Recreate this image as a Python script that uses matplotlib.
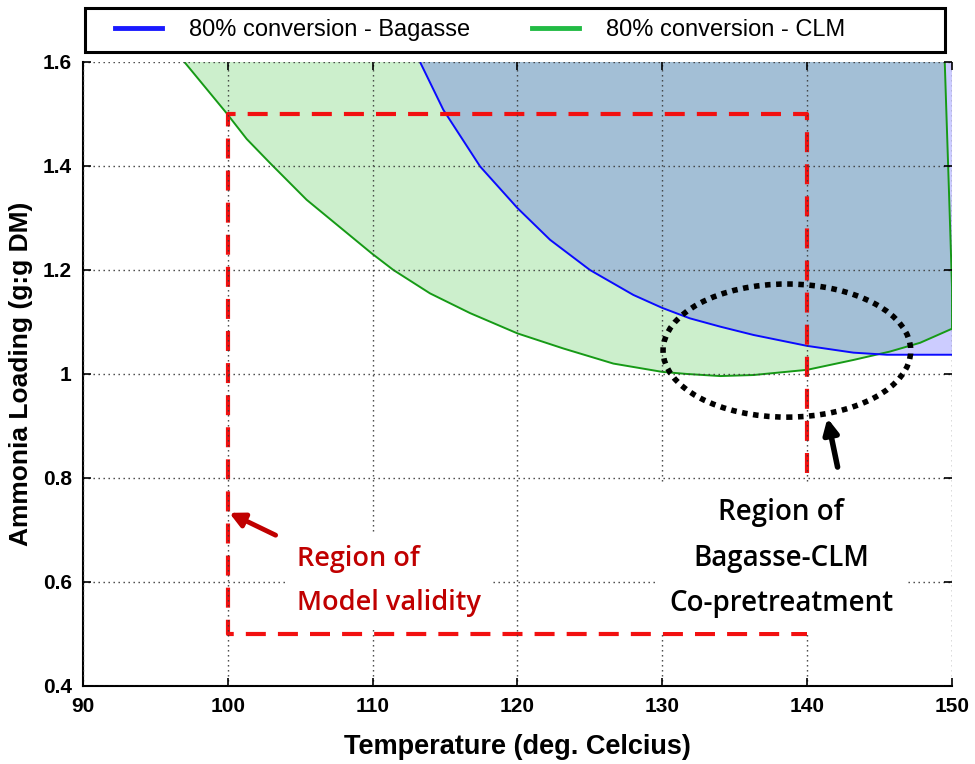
import numpy as np
import matplotlib
matplotlib.use('Agg')
import matplotlib.pyplot as plt
from matplotlib.patches import Ellipse, Rectangle
from matplotlib.lines import Line2D

# 80% conversion boundary - CLM (lower curve, then steep right edge)
clm_T = [97.0, 99.9, 101.3, 102.9, 105.44, 109.93, 111.43, 113.96, 116.73, 120.0, 123.17,
         126.62, 130.0, 131.7, 134.0, 136.3, 140.0, 143.2, 145.7, 147.8, 150.0]
clm_L = [1.600, 1.502, 1.452, 1.406, 1.335, 1.232, 1.200, 1.155, 1.117, 1.078, 1.049,
         1.020, 1.004, 1.000, 0.996, 0.998, 1.008, 1.027, 1.043, 1.060, 1.087]
clm_edge_T = [150.0, 149.9, 149.75, 149.6, 149.5]
clm_edge_L = [1.168, 1.258, 1.387, 1.514, 1.600]

# 80% conversion boundary - Bagasse
bag_T = [113.27, 114.88, 117.42, 120.0, 122.25, 125.0, 128.0, 130.0, 131.9, 134.0,
         136.3, 140.0, 143.2, 145.5, 150.0]
bag_L = [1.600, 1.508, 1.399, 1.319, 1.258, 1.200, 1.152, 1.127, 1.107, 1.091,
         1.075, 1.054, 1.041, 1.037, 1.037]

# region of model validity (red dashed box)
valid_T = [140, 140, 100, 100, 140]
valid_L = [0.81, 1.5, 1.5, 0.5, 0.5]

# co-pretreatment ellipse
ell_center = (138.6, 1.045)
ell_w, ell_h = 17.1, 0.256

xticks = [90, 100, 110, 120, 130, 140, 150]
yticks = [0.4, 0.6, 0.8, 1.0, 1.2, 1.4, 1.6]
yticklabels = ['0.4', '0.6', '0.8', '1', '1.2', '1.4', '1.6']

plt.rcParams['font.family'] = ['Liberation Sans', 'DejaVu Sans']

fig = plt.figure(figsize=(9.75, 7.64), dpi=100)
ax = fig.add_axes([0.0851, 0.1021, 0.8913, 0.8168])

# shaded regions (transparent patches, overlap gives the blue-grey)
ax.fill(clm_T + clm_edge_T, clm_L + clm_edge_L, color=(0, 0.7, 0), alpha=0.2, lw=0)
ax.fill(bag_T + [150], bag_L + [1.6], color=(0, 0, 1), alpha=0.2, lw=0)

ax.plot(clm_T + clm_edge_T, clm_L + clm_edge_L, color='#169a16', lw=1.4)
ax.plot(bag_T, bag_L, color='#0a0aff', lw=1.4)

ax.plot(valid_T, valid_L, color='#f21010', lw=3, ls=(0, (4.8, 2.9)), zorder=2)

ax.add_patch(Ellipse(ell_center, ell_w, ell_h, fill=False, ec='black',
                     lw=4, ls=(0, (1, 1)), zorder=4))

ax.set_xlim(90, 150)
ax.set_ylim(0.4, 1.6)
ax.set_xticks(xticks)
ax.set_yticks(yticks)
ax.set_yticklabels(yticklabels)
ax.set_axisbelow(False)
ax.grid(True, color='#3a3a3a', ls=(0, (1, 2.6)), lw=1.0)
ax.tick_params(direction='in', length=6, width=1.2, top=True, right=True,
               labelsize=15, pad=8)
for lab in ax.get_xticklabels() + ax.get_yticklabels():
    lab.set_fontweight('bold')
for s in ['top', 'right']:
    ax.spines[s].set_visible(False)
for s in ['left', 'bottom']:
    ax.spines[s].set_linewidth(1.5)

ax.set_xlabel('Temperature (deg. Celcius)', fontsize=19.5, fontweight='bold', labelpad=13)
ax.set_ylabel('Ammonia Loading (g:g DM)', fontsize=19, fontweight='bold', labelpad=7)

# annotations
ax.text(104.8, 0.602, 'Region of\nModel validity', color='#c00000', fontsize=19.5,
        family=['Open Sans', 'DejaVu Sans'], fontweight='semibold', ha='left', va='center',
        linespacing=1.75, zorder=5,
        bbox=dict(boxstyle='square,pad=0.4', fc='white', ec='none'))
ax.text(138.2, 0.646, 'Region of\nBagasse-CLM\nCo-pretreatment', color='black', fontsize=20,
        family=['Open Sans', 'DejaVu Sans'], fontweight='semibold', ha='center', va='center',
        multialignment='center', linespacing=1.75, zorder=5,
        bbox=dict(boxstyle='square,pad=0.5', fc='white', ec='none'))

ax.annotate('', xy=(100.1, 0.733), xytext=(103.3, 0.690),
            arrowprops=dict(arrowstyle='-|>', color='#c00000', lw=3.5, mutation_scale=22,
                            shrinkA=0, shrinkB=0), zorder=6)
ax.annotate('', xy=(141.4, 0.915), xytext=(142.1, 0.821),
            arrowprops=dict(arrowstyle='-|>', color='black', lw=4, mutation_scale=22,
                            shrinkA=0, shrinkB=0), zorder=6)

# legend above the axes
fig.patches.append(Rectangle((0.0872, 0.9319), 0.882, 0.0576, transform=fig.transFigure,
                             fill=False, ec='black', lw=2.2))
handles = [Line2D([], [], color='#1a1aff', lw=3.5), Line2D([], [], color='#22bb44', lw=3.5)]
fig.legend(handles, ['80% conversion - Bagasse', '80% conversion - CLM'], ncol=2,
           loc='center left', bbox_to_anchor=(0.118, 0.9607), frameon=False,
           fontsize=17, handlelength=2.0, handletextpad=1.15, columnspacing=2.6,
           borderaxespad=0, borderpad=0)

fig.savefig('out.png', dpi=100)
